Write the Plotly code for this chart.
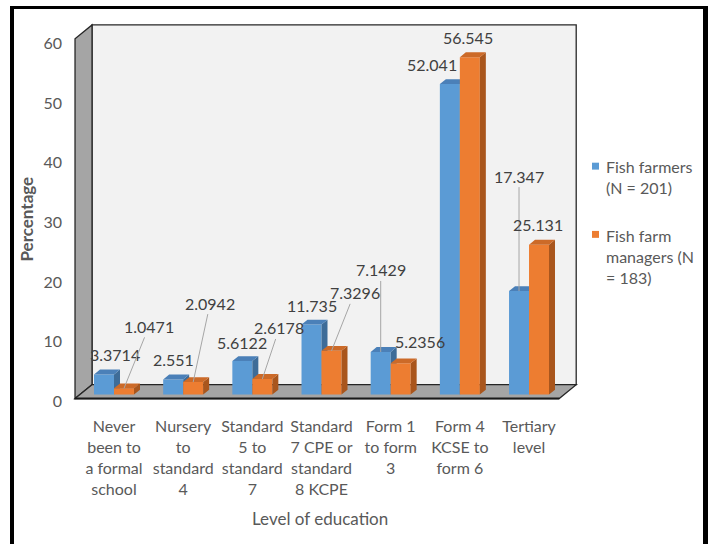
import plotly.graph_objects as go

# ---- data -------------------------------------------------------------
categories = [
    "Never<br>been to<br>a formal<br>school",
    "Nursery<br>to<br>standard<br>4",
    "Standard<br>5 to<br>standard<br>7",
    "Standard<br>7 CPE or<br>standard<br>8 KCPE",
    "Form 1<br>to form<br>3",
    "Form 4<br>KCSE to<br>form 6",
    "Tertiary<br>level",
]
fish_farmers = [3.3714, 2.551, 5.6122, 11.735, 7.1429, 52.041, 17.347]
farm_managers = [1.0471, 2.0942, 2.6178, 7.3296, 5.2356, 56.545, 25.131]
series_names = ["Fish farmers<br>(N = 201)", "Fish farm<br>managers (N<br>= 183)"]
y_ticks = [0, 10, 20, 30, 40, 50, 60]
x_title = "Level of education"
y_title = "Percentage"

# ---- style ------------------------------------------------------------
FONT = "Lato"
GREY_TXT = "#595959"
LABEL_TXT = "#404040"
BLUE = dict(front="#5B9BD5", top="#4B80B8", side="#3E6C98")
ORANGE = dict(front="#ED7D31", top="#CC6A28", side="#A9561D")

# label placement (pixel offsets from bar top, leader line on/off)
farmer_label_pos = [(11, -20, False), (0, -20, False), (0, -19, False), (0, -19, False),
                    (0, -82, True), (-18, -20, False), (0, -115, True)]
manager_label_pos = [(25, -62, True), (17, -79, True), (17, -51, True), (23, -58, True),
                     (19, -22, False), (-2, -20, False), (-1, -20, False)]

W, H = 711, 544
PX_X = 69.17          # pixels per category
PX_Y = 6.033          # pixels per percentage point
X0_PX, Y0_PX = 114, 399
XR = (-0.72, 6.72)
YR = (-1.6, 62.6)

BAR_W = 0.289
DEPTH_X = 6 / PX_X    # bar depth projection
DEPTH_Y = 5 / PX_Y
FX, FY = -4.4 / PX_X, -4 / PX_Y    # front plane offset
BX, BY = 12.6 / PX_X, 10 / PX_Y    # back plane offset
TICK_SHIFT = -3 / PX_Y             # tick text optical alignment

x_dom = [(X0_PX + PX_X * XR[0]) / W, (X0_PX + PX_X * XR[1]) / W]
y_dom = [1 - (Y0_PX - PX_Y * YR[0]) / H, 1 - (Y0_PX - PX_Y * YR[1]) / H]

n = len(categories)
idx = list(range(n))


def faces(values, offset):
    """Top and side faces of the pseudo-3D columns."""
    tx, ty, sx, sy = [], [], [], []
    for i, v in enumerate(values):
        xl = i + offset
        xr = xl + BAR_W
        tx += [xl, xr, xr + DEPTH_X, xl + DEPTH_X, xl, None]
        ty += [v, v, v + DEPTH_Y, v + DEPTH_Y, v, None]
        sx += [xr, xr, xr + DEPTH_X, xr + DEPTH_X, xr, None]
        sy += [0, v, v + DEPTH_Y, DEPTH_Y, 0, None]
    return (tx, ty), (sx, sy)


fig = go.Figure()

for values, offset, col, yax in [(fish_farmers, -BAR_W, BLUE, "y"),
                                 (farm_managers, 0.0, ORANGE, "y2")]:
    fig.add_trace(go.Bar(x=idx, y=values, width=BAR_W, offset=offset,
                         marker=dict(color=col["front"], line=dict(width=0)),
                         yaxis=yax, showlegend=False, hoverinfo="skip"))
    (tx, ty), (sx, sy) = faces(values, offset)
    fig.add_trace(go.Scatter(x=sx, y=sy, fill="toself", fillcolor=col["side"],
                             mode="lines", line=dict(width=0), yaxis=yax,
                             showlegend=False, hoverinfo="skip"))
    fig.add_trace(go.Scatter(x=tx, y=ty, fill="toself", fillcolor=col["top"],
                             mode="lines", line=dict(width=0), yaxis=yax,
                             showlegend=False, hoverinfo="skip"))

# invisible trace carrying the front-plane tick axis
fig.add_trace(go.Scatter(x=[None], y=[None], yaxis="y3", showlegend=False,
                         hoverinfo="skip"))

# ---- walls and floor --------------------------------------------------
x_lo, x_hi = -0.5, n - 0.5
y_top = y_ticks[-1]
edge = dict(color="#262626", width=1.3)
shapes = [
    dict(type="rect", xref="x", yref="y", layer="below",
         x0=x_lo + BX, x1=x_hi + BX, y0=BY, y1=y_top + BY + 0.3,
         fillcolor="#F2F2F2", line=edge),
    dict(type="path", xref="x", yref="y", layer="below",
         path=f"M{x_lo + FX},{FY} L{x_lo + BX},{BY} L{x_lo + BX},{y_top + BY + 0.3} "
              f"L{x_lo + FX},{y_top + FY + 0.3} Z",
         fillcolor="#A5A5A5", line=edge),
    dict(type="path", xref="x", yref="y", layer="below",
         path=f"M{x_lo + FX},{FY} L{x_lo + BX},{BY} L{x_hi + BX},{BY} L{x_hi + FX},{FY} Z",
         fillcolor="#A5A5A5", line=edge),
    dict(type="line", xref="x", yref="y", layer="below",
         x0=x_lo + FX, x1=x_hi + FX, y0=FY, y1=FY, line=dict(color="#1a1a1a", width=2)),
]

# page frame
shapes += [
    dict(type="line", xref="paper", yref="paper", x0=12 / W, x1=12 / W, y0=-0.05, y1=1 - 6 / H,
         line=dict(color="black", width=4)),
    dict(type="line", xref="paper", yref="paper", x0=10 / W, x1=708 / W, y0=1 - 7.5 / H,
         y1=1 - 7.5 / H, line=dict(color="black", width=3)),
    dict(type="line", xref="paper", yref="paper", x0=705.5 / W, x1=705.5 / W, y0=-0.05,
         y1=1 - 6 / H, line=dict(color="black", width=5)),
]

# custom legend keys
legend_rows = [(168, BLUE["front"]), (237, ORANGE["front"])]
for ypx, colr in legend_rows:
    shapes.append(dict(type="rect", xref="paper", yref="paper",
                       x0=592 / W, x1=599 / W, y0=1 - (ypx + 3.5) / H, y1=1 - (ypx - 3.5) / H,
                       fillcolor=colr, line=dict(width=0)))

# ---- annotations ------------------------------------------------------
ann = []
for values, offset, pos in [(fish_farmers, -BAR_W, farmer_label_pos),
                            (farm_managers, 0.0, manager_label_pos)]:
    for i, (v, (ax, ay, line)) in enumerate(zip(values, pos)):
        ann.append(dict(x=i + offset + BAR_W / 2, y=v, xref="x", yref="y",
                        text=f"{v:g}", showarrow=True, ax=ax, ay=ay,
                        arrowhead=0, arrowwidth=1, standoff=0,
                        arrowcolor="#A6A6A6" if line else "rgba(0,0,0,0)",
                        font=dict(family=FONT, size=16, color=LABEL_TXT)))

for (ypx, _), name in zip(legend_rows, series_names):
    ann.append(dict(x=604 / W, y=1 - (ypx - 11) / H, xref="paper", yref="paper",
                    xanchor="left", yanchor="top", align="left", showarrow=False,
                    text=name, font=dict(family=FONT, size=16, color=GREY_TXT)))

ann.append(dict(x=27 / W, y=1 - 222 / H, xref="paper", yref="paper", showarrow=False,
                xanchor="center", yanchor="middle", text=f"<b>{y_title}</b>", textangle=-90,
                font=dict(family=FONT, size=17, color=GREY_TXT)))
ann.append(dict(x=320 / W, y=1 - 524 / H, xref="paper", yref="paper", showarrow=False,
                xanchor="center", yanchor="middle", text=x_title,
                font=dict(family=FONT, size=17, color=GREY_TXT)))

# ---- layout -----------------------------------------------------------
axis_common = dict(showgrid=False, zeroline=False, showline=False)
fig.update_layout(
    width=W, height=H, margin=dict(l=0, r=0, t=0, b=0),
    paper_bgcolor="white", plot_bgcolor="rgba(0,0,0,0)",
    barmode="overlay", showlegend=False,
    xaxis=dict(domain=x_dom, range=list(XR), tickmode="array", tickvals=idx,
               ticktext=categories, ticks="", ticklabelstandoff=11,
               tickfont=dict(family=FONT, size=16, color=GREY_TXT), **axis_common),
    yaxis=dict(domain=y_dom, range=list(YR), showticklabels=False, ticks="", **axis_common),
    yaxis2=dict(overlaying="y", range=list(YR), showticklabels=False, ticks="", **axis_common),
    yaxis3=dict(overlaying="y", range=[YR[0] - FY - TICK_SHIFT, YR[1] - FY - TICK_SHIFT],
                anchor="free",
                position=(X0_PX + PX_X * x_lo) / W + FX * PX_X / W,
                tickmode="array", tickvals=y_ticks, ticks="", ticklabelstandoff=13,
                tickfont=dict(family=FONT, size=16, color=GREY_TXT), **axis_common),
    shapes=shapes, annotations=ann,
)

fig.write_html("out.html")
